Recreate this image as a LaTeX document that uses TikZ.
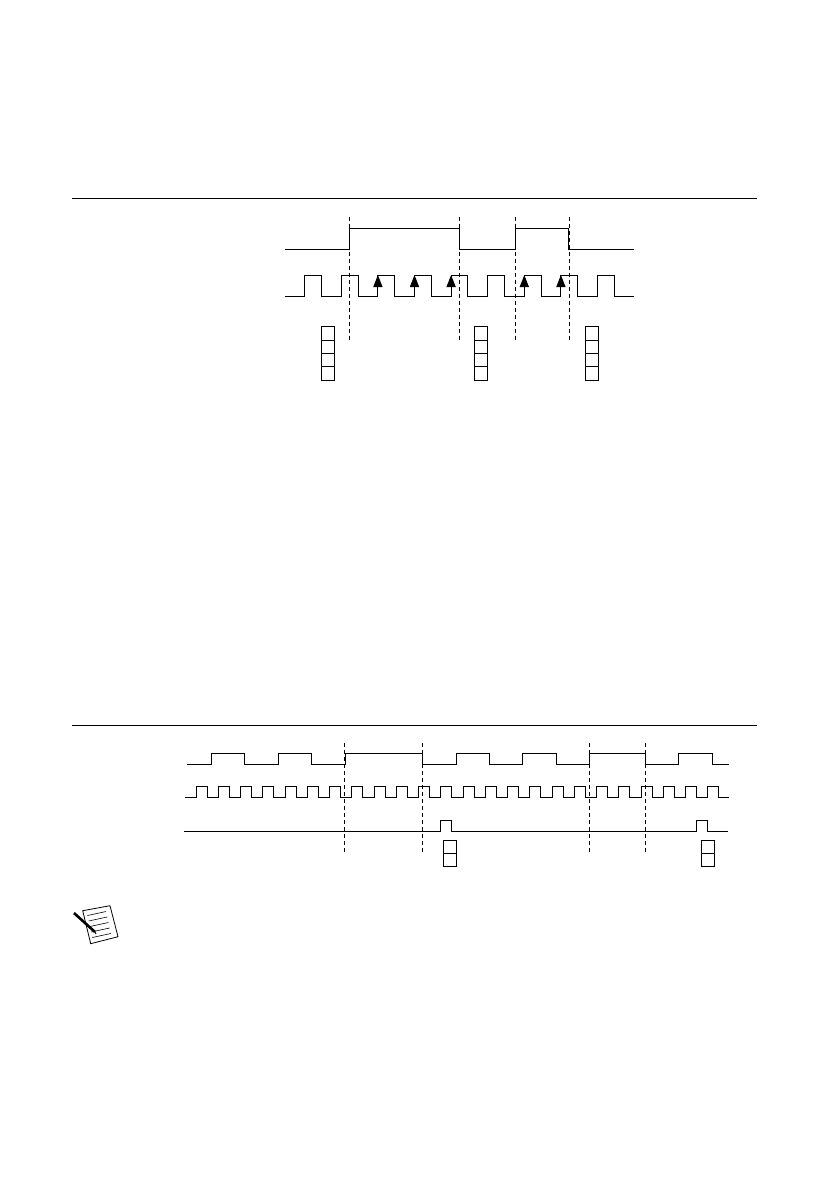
\documentclass[tikz,border=0pt]{standalone}
\tikzset{
  signal/.style={line width=0.9pt,line join=miter},
  rulerline/.style={line width=0.8pt},
  gateline/.style={line width=0.8pt,dash pattern=on 4pt off 3pt},
  sampleboxes/.style={line width=0.8pt}
}
\begin{document}
\begin{tikzpicture}[x=1pt,y=-1pt]

      \useasboundingbox (0,0) rectangle (839,1191);

      % Rules
      \draw[rulerline] (72,198.5) -- (757,198.5);
      \draw[rulerline] (72,725.5) -- (757,725.5);

      % Upper figure: gate
      \draw[signal] (285,249.3) -- (349.3,249.3) -- (349.3,228.3) -- (459.3,228.3) -- (459.3,249.3)
        -- (515.7,249.3) -- (515.7,228.3) -- (568.7,228.3) -- (568.7,249.3) -- (633.7,249.3);

      % Upper figure: source
      \draw[signal] (285,296.3) foreach \x in {304.7,341.3,377.9,414.5,451.1,487.7,524.3,560.9,597.5} {
        -- (\x,296.3) -- (\x,275.3) -- ({\x+16.8},275.3) -- ({\x+16.8},296.3) } -- (633.7,296.3);

      % Upper figure: edge markers
      \foreach \x in {377.9,414.5,451.1,524.3,560.9}
        \fill (\x,275) -- ({\x+4.7},287) -- ({\x-4.7},287) -- cycle;

      % Upper figure: gate edges
      \foreach \x in {349.3,459.5,515.5,569.5}
        \draw[gateline] (\x,216.7) -- (\x,340.7);

      % Upper figure: sample boxes
      \foreach \x in {321.3,474.3,585.3} {
        \draw[sampleboxes] (\x,326.3) rectangle ({\x+13},380.3);
        \foreach \y in {340.3,353.3,366.7}
          \draw[sampleboxes] (\x,\y) -- ({\x+13},\y);
      }

      % Lower figure: gate
      \draw[signal] (187,764.3) -- (211.7,764.3) -- (211.7,753.3) -- (244.7,753.3) -- (244.7,764.3)
        -- (278.3,764.3) -- (278.3,753.3) -- (311.7,753.3) -- (311.7,764.3)
        -- (345.3,764.3) -- (345.3,753.3) -- (422.3,753.3) -- (422.3,764.3)
        -- (456.5,764.3) -- (456.5,753.3) -- (489.7,753.3) -- (489.7,764.3)
        -- (522.7,764.3) -- (522.7,753.3) -- (556.7,753.3) -- (556.7,764.3)
        -- (589.3,764.3) -- (589.3,753.3) -- (645.3,753.3) -- (645.3,764.3)
        -- (678.7,764.3) -- (678.7,753.3) -- (712.7,753.3) -- (712.7,764.3) -- (728.7,764.3);

      % Lower figure: source
      \draw[signal] (185,797.3) foreach \k in {0,...,23} {
        -- ({196+22.25*\k},797.3) -- ({196+22.25*\k},786.3) -- ({207+22.25*\k},786.3) -- ({207+22.25*\k},797.3) } -- (729.3,797.3);

      % Lower figure: output
      \draw[signal] (184,831.3) -- (440.3,831.3) -- (440.3,820.3) -- (451.3,820.3) -- (451.3,831.3)
        -- (696.3,831.3) -- (696.3,820.3) -- (707.3,820.3) -- (707.3,831.3) -- (727.7,831.3);

      % Lower figure: gate edges
      \foreach \x in {344.3,422.3,589.3,645.3}
        \draw[gateline] (\x,743.3) -- (\x,852.3);

      % Lower figure: sample boxes
      \foreach \x in {443.3,701.3} {
        \draw[sampleboxes] (\x,840.3) rectangle ({\x+13},866.3);
        \draw[sampleboxes] (\x,853.3) -- ({\x+13},853.3);
      }

      % Note icon
      \draw[line width=0.8pt] (82.7,910.7) -- (110,905.7) -- (118,936.7) -- (90.7,943.7) -- cycle;
      \foreach \y in {0,1,2,3,4}
        \draw[line width=0.6pt] ({87.5+\y*1.2},{915.5+\y*5.5}) -- ({106+\y*1.2},{911.5+\y*5.5});
      \draw[line width=2.6pt] (74,913) -- (95,932);
      \draw[line width=1pt] (95,932) -- (96,934);

    \end{tikzpicture}
\end{document}
